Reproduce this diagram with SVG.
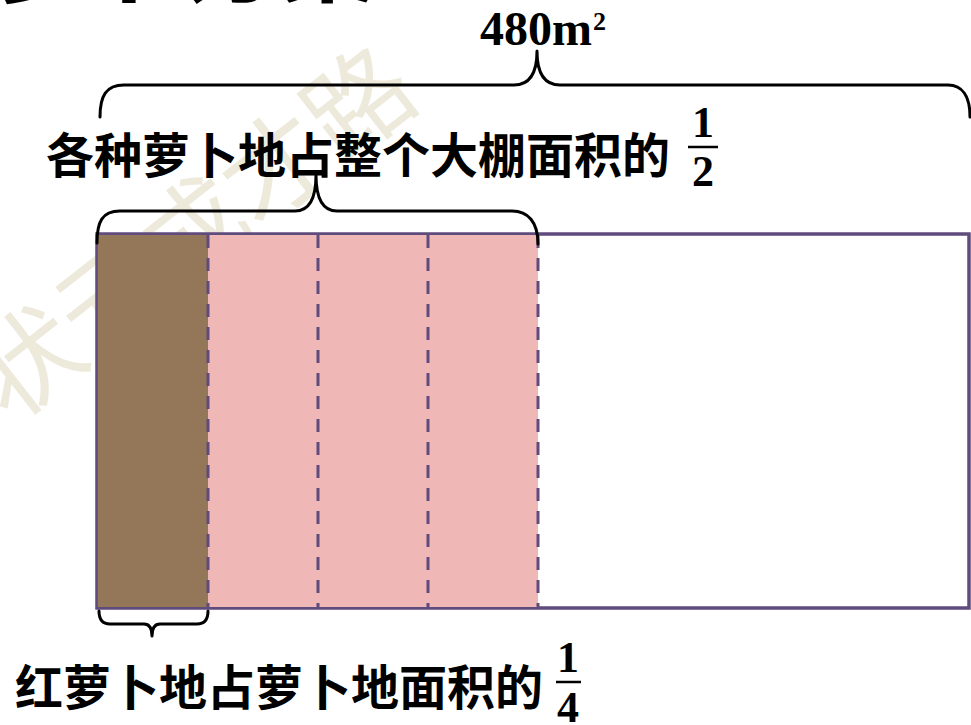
<svg xmlns="http://www.w3.org/2000/svg" width="971" height="725" viewBox="0 0 971 725">
<style>
.cjk{font-family:"Noto Sans CJK SC","Noto Sans",sans-serif;font-weight:700;fill:#000}
.num{font-family:"Liberation Serif","Times New Roman",serif;font-weight:700;fill:#000}
.brace{fill:none;stroke:#000;stroke-width:3;stroke-linejoin:round;stroke-linecap:round}
.div{stroke:#604b7d;stroke-width:3;stroke-dasharray:13 10}
.bar{stroke:#000;stroke-width:2.5}
</style>
<rect width="971" height="725" fill="#fff"/>
<text x="195" y="270" transform="rotate(-38 195 235)" text-anchor="middle" font-family="Noto Sans CJK SC, sans-serif" font-weight="400" font-size="105" fill="#ede9db">状元成才路</text>
<text class="cjk" x="-5" y="-5" font-size="95">萝卜方案：</text>
<g id="field">
<rect x="97" y="234" width="872" height="374" fill="#fff" stroke="#604b7d" stroke-width="3.5"/>
<rect x="97" y="235" width="111" height="372" fill="#937758"/>
<rect x="208" y="235" width="330" height="372" fill="#efb8b7"/>
<line x1="97" y1="234" x2="538" y2="234" stroke="#604b7d" stroke-width="2"/>
<line x1="97" y1="234" x2="97" y2="608" stroke="#604b7d" stroke-width="1.5"/>
<line x1="97" y1="608" x2="538" y2="608" stroke="#604b7d" stroke-width="2"/>
<line class="div" x1="208" y1="235" x2="208" y2="607"/>
<line class="div" x1="318" y1="235" x2="318" y2="607"/>
<line class="div" x1="428" y1="235" x2="428" y2="607"/>
<line class="div" x1="538" y1="235" x2="538" y2="607"/>
</g>
<g id="connectors">
<path class="brace" d="M100,117 C100,96 106,85 124,85 L514,85 C530,85 537,72 537,51 C537,72 544,85 560,85 L948,85 C962,85 970,96 970,117"/>
<path class="brace" d="M97,243 C97,222 102,211 120,211 L295,211 C310,211 316,198 316,175 C316,198 322,211 337,211 L512,211 C528,211 538,222 538,244"/>
<path class="brace" d="M99,611 Q99,624 110,624 L144,624 Q152,624 152,636 Q152,624 160,624 L197,624 Q208,624 208,611"/>
</g>
<g id="label-total">
<text class="num" x="480" y="45" font-size="48">480m</text>
<text class="num" x="593" y="30" font-size="26">2</text>
</g>
<g id="label-half">
<text class="cjk" x="46" y="173" font-size="48">各种萝卜地占整个大棚面积的</text>
<text class="num" x="703" y="137" font-size="44" text-anchor="middle">1</text>
<line class="bar" x1="688" y1="147" x2="718" y2="147"/>
<text class="num" x="703" y="186" font-size="44" text-anchor="middle">2</text>
</g>
<g id="label-quarter">
<text class="cjk" x="15" y="705" font-size="48">红萝卜地占萝卜地面积的</text>
<text class="num" x="568" y="672" font-size="44" text-anchor="middle">1</text>
<line class="bar" x1="556" y1="682" x2="581" y2="682"/>
<text class="num" x="568" y="722" font-size="44" text-anchor="middle">4</text>
</g>
</svg>
